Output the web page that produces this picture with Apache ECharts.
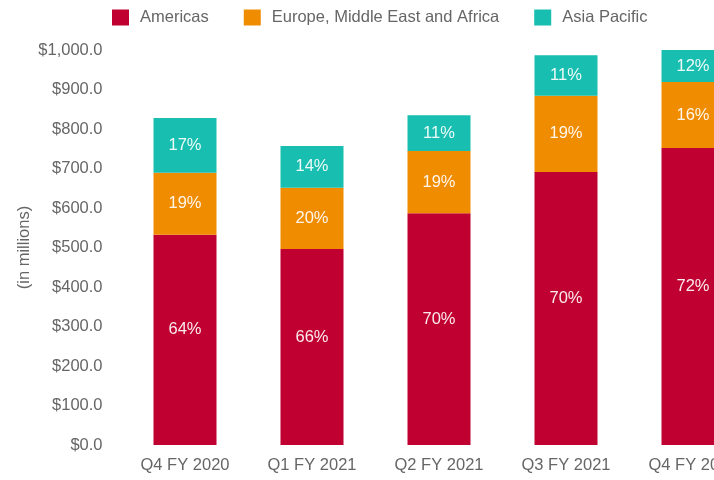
<!DOCTYPE html>
<html>
<head>
<meta charset="utf-8">
<script src="https://cdn.jsdelivr.net/npm/echarts@6/dist/echarts.min.js"></script>
<style>
  html, body { margin: 0; padding: 0; background: #fff; }
  #chart { width: 714px; height: 480px; }
</style>
</head>
<body>
<div id="chart"></div>
<script>
// quarters and revenue by region (in millions)
const quarters = ['Q4 FY 2020', 'Q1 FY 2021', 'Q2 FY 2021', 'Q3 FY 2021', 'Q4 FY 2021'];
const americas = [532, 496, 587, 691, 752];
const emea = [157, 155, 157, 193, 167];
const apac = [139, 106, 91, 103, 86];
// share labels as printed on the bars
const americasPct = ['64%', '66%', '70%', '70%', '72%'];
const emeaPct = ['19%', '20%', '19%', '19%', '16%'];
const apacPct = ['17%', '14%', '11%', '11%', '12%'];

const font = 'Liberation Sans, Arial, sans-serif';
const grey = '#666666';

function pctLabel(list, dy) {
  return {
    show: true,
    position: 'inside',
    offset: [0, dy],
    color: 'rgba(255,255,255,0.92)',
    fontFamily: font,
    fontSize: 16.5,
    formatter: function (p) { return list[p.dataIndex]; }
  };
}

const chart = echarts.init(document.getElementById('chart'));
chart.setOption({
  animation: false,
  textStyle: { fontFamily: font },
  legend: {
    left: 107,
    top: 4,
    itemWidth: 17,
    itemHeight: 16,
    itemGap: 35,
    icon: 'rect',
    textStyle: { color: grey, fontSize: 16.5, fontFamily: font, padding: [0, 0, 0, 6] },
    data: ['Americas', 'Europe, Middle East and Africa', 'Asia Pacific']
  },
  grid: { left: 121.5, width: 635, top: 50, bottom: 35, containLabel: false, outerBoundsMode: 'none' },
  xAxis: {
    type: 'category',
    data: quarters,
    axisLine: { show: false },
    axisTick: { show: false },
    axisLabel: { color: grey, fontSize: 16.5, margin: 12, fontFamily: font }
  },
  yAxis: {
    type: 'value',
    min: 0,
    max: 1000,
    interval: 100,
    name: '(in millions)',
    nameLocation: 'middle',
    nameRotate: 90,
    nameGap: 89,
    nameMoveOverlap: false,
    nameTextStyle: { color: grey, fontSize: 16.5, fontFamily: font },
    axisLine: { show: false },
    axisTick: { show: false },
    splitLine: { show: false },
    axisLabel: {
      color: grey,
      fontSize: 16.5,
      margin: 19,
      fontFamily: font,
      formatter: function (v) {
        return '$' + v.toLocaleString('en-US', { minimumFractionDigits: 1, maximumFractionDigits: 1 });
      }
    }
  },
  series: [
    {
      name: 'Americas',
      type: 'bar',
      stack: 'total',
      barWidth: 63,
      itemStyle: { color: '#C00030' },
      label: pctLabel(americasPct, -10),
      data: americas
    },
    {
      name: 'Europe, Middle East and Africa',
      type: 'bar',
      stack: 'total',
      barWidth: 63,
      itemStyle: { color: '#F08C00' },
      label: pctLabel(emeaPct, 0),
      data: emea
    },
    {
      name: 'Asia Pacific',
      type: 'bar',
      stack: 'total',
      barWidth: 63,
      itemStyle: { color: '#18BFB0' },
      label: pctLabel(apacPct, 0),
      data: apac
    }
  ]
});
</script>
</body>
</html>
